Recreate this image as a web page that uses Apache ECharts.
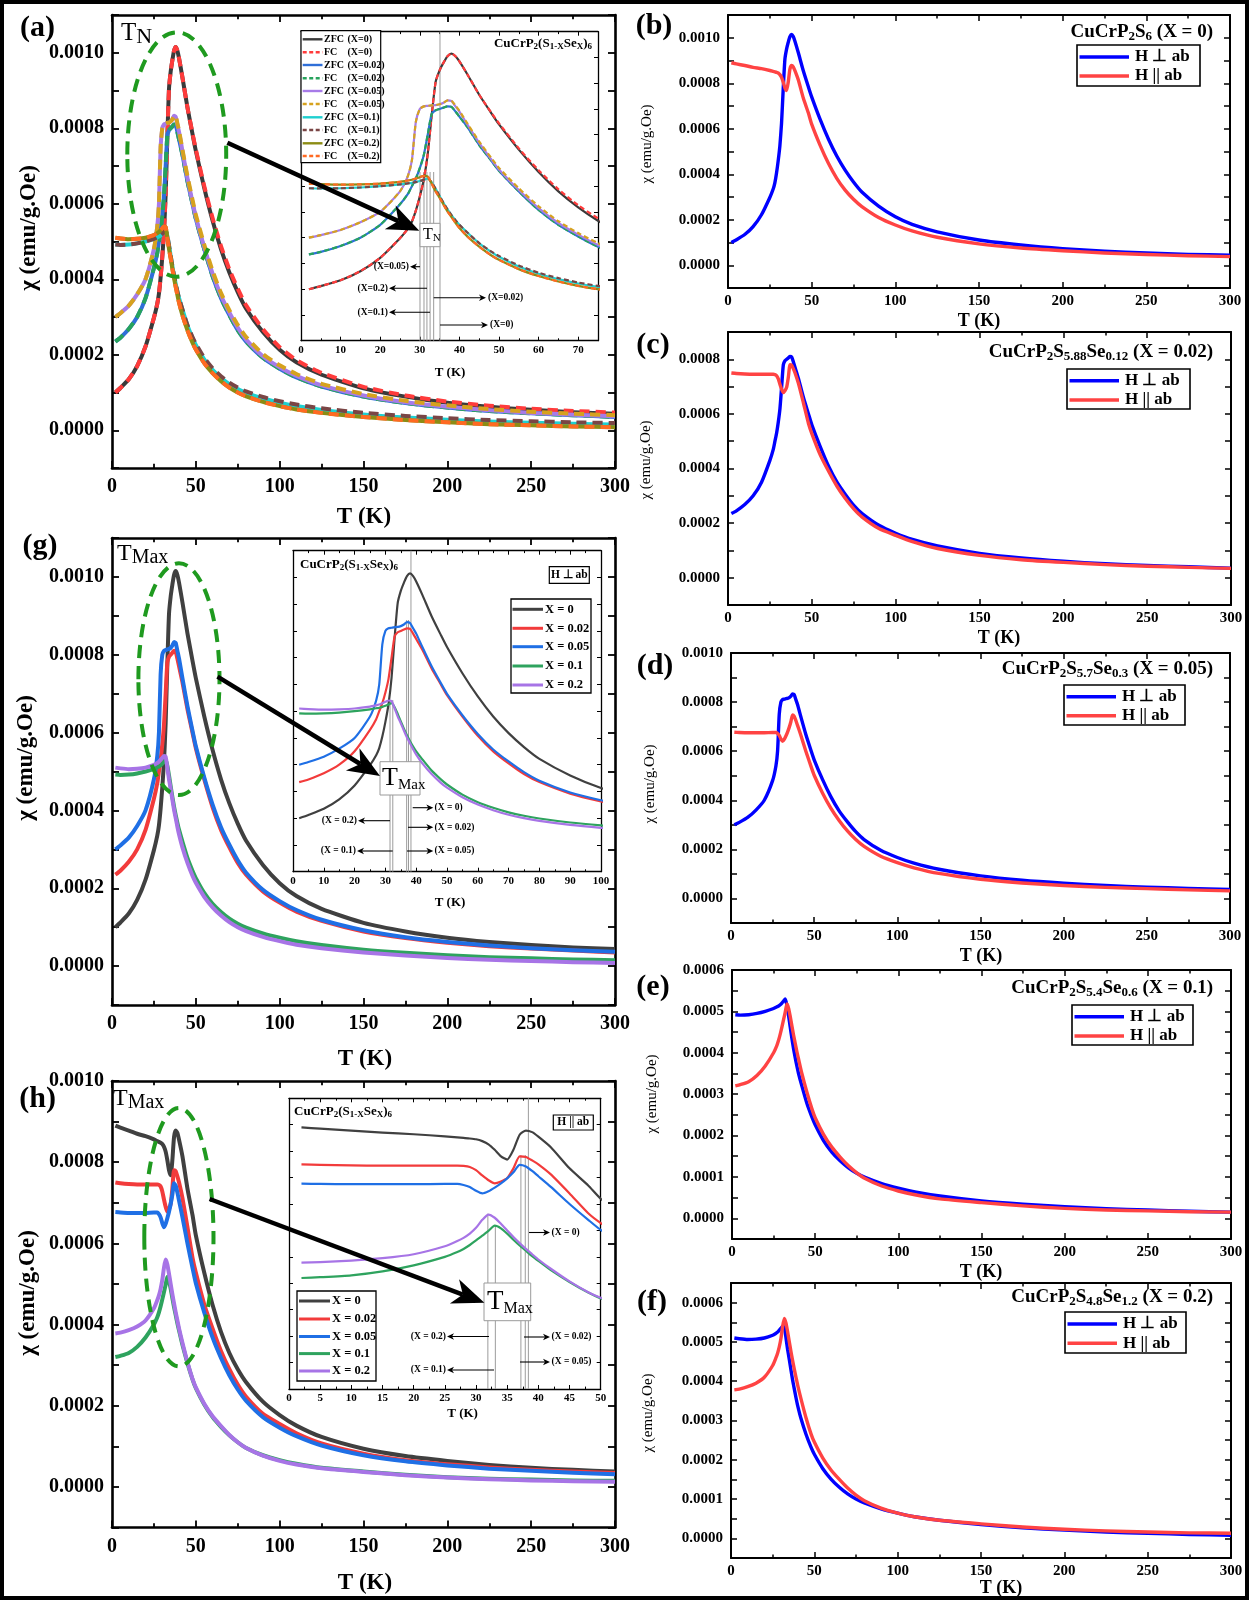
<!DOCTYPE html>
<html>
<head>
<meta charset="utf-8">
<script src="https://cdn.jsdelivr.net/npm/echarts@6/dist/echarts.min.js"></script>
<style>
html, body { margin: 0; padding: 0; background: #fff; }
#chart { width: 1249px; height: 1600px; }
</style>
</head>
<body>
<div id="chart"></div>
<script>
// Temperature grid (K) shared by every susceptibility curve
const T = [2, 5, 10, 15, 20, 25, 27, 28, 29, 30, 31, 32, 33, 34, 35, 36, 37, 38, 39, 40,
           42, 45, 48, 50, 55, 60, 65, 70, 75, 80, 90, 100, 110, 125, 150, 175, 200, 225, 250, 275, 300];

// chi (emu/g.Oe), field perpendicular to ab (ZFC)
const perpX0 = [0.000100, 0.000112, 0.000135, 0.000170, 0.000222, 0.000298, 0.000335, 0.000362, 0.000405, 0.000460,
                0.000525, 0.000625, 0.000775, 0.000905, 0.000950, 0.000980, 0.001005, 0.001015, 0.001005, 0.000985,
                0.000935, 0.000855, 0.000785, 0.000740, 0.000642, 0.000555, 0.000480, 0.000418, 0.000366, 0.000322,
                0.000260, 0.000213, 0.000180, 0.000147, 0.000111, 0.000089, 0.000073, 0.000062, 0.000054, 0.000048, 0.000044];
const perpX002 = [0.000235, 0.000245, 0.000268, 0.000300, 0.000350, 0.000430, 0.000470, 0.000500, 0.000530, 0.000570,
                  0.000620, 0.000700, 0.000780, 0.000795, 0.000800, 0.000805, 0.000810, 0.000808, 0.000790, 0.000770,
                  0.000730, 0.000660, 0.000600, 0.000560, 0.000480, 0.000408, 0.000350, 0.000305, 0.000265, 0.000235,
                  0.000192, 0.000163, 0.000140, 0.000116, 0.000089, 0.000072, 0.000060, 0.000051, 0.000045, 0.000040, 0.000035];
const perpX005 = [0.000300, 0.000310, 0.000330, 0.000360, 0.000400, 0.000480, 0.000540, 0.000600, 0.000750, 0.000800,
                  0.000810, 0.000812, 0.000814, 0.000815, 0.000818, 0.000824, 0.000833, 0.000830, 0.000810, 0.000790,
                  0.000740, 0.000668, 0.000605, 0.000565, 0.000485, 0.000415, 0.000357, 0.000312, 0.000272, 0.000240,
                  0.000196, 0.000167, 0.000144, 0.000119, 0.000092, 0.000074, 0.000062, 0.000053, 0.000046, 0.000041, 0.000037];
const perpX01 = [0.000492, 0.000491, 0.000492, 0.000495, 0.000500, 0.000507, 0.000511, 0.000513, 0.000516, 0.000520,
                 0.000525, 0.000530, 0.000515, 0.000490, 0.000462, 0.000435, 0.000410, 0.000388, 0.000368, 0.000350,
                 0.000320, 0.000278, 0.000245, 0.000226, 0.000188, 0.000160, 0.000139, 0.000122, 0.000109, 0.000099,
                 0.000084, 0.000073, 0.000064, 0.000054, 0.000042, 0.000034, 0.000028, 0.000023, 0.000020, 0.000017, 0.000015];
const perpX02 = [0.000510, 0.000508, 0.000506, 0.000507, 0.000510, 0.000517, 0.000522, 0.000525, 0.000530, 0.000535,
                 0.000540, 0.000538, 0.000510, 0.000480, 0.000455, 0.000428, 0.000402, 0.000380, 0.000358, 0.000338,
                 0.000305, 0.000265, 0.000232, 0.000214, 0.000178, 0.000151, 0.000130, 0.000113, 0.000100, 0.000090,
                 0.000075, 0.000064, 0.000055, 0.000046, 0.000035, 0.000027, 0.000021, 0.000016, 0.000013, 0.000010, 0.000008];

// field-cooled runs, same orientation
const fcX0 = [0.000100, 0.000112, 0.000135, 0.000170, 0.000222, 0.000298, 0.000335, 0.000362, 0.000405, 0.000460,
              0.000525, 0.000625, 0.000775, 0.000905, 0.000950, 0.000980, 0.001005, 0.001015, 0.001005, 0.000985,
              0.000935, 0.000855, 0.000787, 0.000744, 0.000647, 0.000562, 0.000488, 0.000426, 0.000375, 0.000331,
              0.000268, 0.000220, 0.000186, 0.000152, 0.000115, 0.000092, 0.000076, 0.000065, 0.000057, 0.000051, 0.000047];
const fcX002 = [0.000235, 0.000245, 0.000268, 0.000300, 0.000350, 0.000430, 0.000470, 0.000500, 0.000530, 0.000570,
                0.000620, 0.000700, 0.000780, 0.000795, 0.000800, 0.000805, 0.000810, 0.000808, 0.000790, 0.000770,
                0.000730, 0.000660, 0.000600, 0.000560, 0.000480, 0.000408, 0.000350, 0.000305, 0.000265, 0.000235,
                0.000192, 0.000163, 0.000140, 0.000116, 0.000089, 0.000072, 0.000060, 0.000051, 0.000045, 0.000040, 0.000035];
const fcX005 = [0.000300, 0.000310, 0.000330, 0.000360, 0.000400, 0.000480, 0.000540, 0.000600, 0.000750, 0.000800,
                0.000810, 0.000812, 0.000814, 0.000815, 0.000818, 0.000824, 0.000833, 0.000832, 0.000813, 0.000793,
                0.000744, 0.000673, 0.000611, 0.000571, 0.000492, 0.000422, 0.000364, 0.000318, 0.000279, 0.000247,
                0.000202, 0.000172, 0.000149, 0.000123, 0.000096, 0.000078, 0.000066, 0.000056, 0.000049, 0.000044, 0.000040];
const fcX01 = [0.000492, 0.000491, 0.000492, 0.000495, 0.000500, 0.000507, 0.000511, 0.000513, 0.000516, 0.000520,
               0.000525, 0.000530, 0.000515, 0.000490, 0.000462, 0.000435, 0.000410, 0.000388, 0.000368, 0.000350,
               0.000320, 0.000279, 0.000247, 0.000229, 0.000192, 0.000164, 0.000143, 0.000126, 0.000113, 0.000103,
               0.000088, 0.000077, 0.000068, 0.000058, 0.000046, 0.000038, 0.000032, 0.000027, 0.000024, 0.000021, 0.000019];
const fcX02 = [0.000510, 0.000508, 0.000506, 0.000507, 0.000510, 0.000517, 0.000522, 0.000525, 0.000530, 0.000535,
               0.000540, 0.000538, 0.000510, 0.000480, 0.000455, 0.000428, 0.000402, 0.000380, 0.000358, 0.000338,
               0.000305, 0.000265, 0.000232, 0.000214, 0.000178, 0.000151, 0.000130, 0.000113, 0.000100, 0.000090,
               0.000075, 0.000064, 0.000055, 0.000046, 0.000035, 0.000027, 0.000021, 0.000016, 0.000013, 0.000010, 0.000008];

// chi (emu/g.Oe), field parallel to ab
const paraX0 = [0.000890, 0.000885, 0.000878, 0.000870, 0.000864, 0.000856, 0.000852, 0.000850, 0.000848, 0.000845,
                0.000838, 0.000826, 0.000805, 0.000780, 0.000768, 0.000805, 0.000862, 0.000878, 0.000872, 0.000855,
                0.000815, 0.000735, 0.000670, 0.000620, 0.000528, 0.000448, 0.000382, 0.000330, 0.000290, 0.000258,
                0.000210, 0.000177, 0.000151, 0.000123, 0.000094, 0.000076, 0.000064, 0.000054, 0.000047, 0.000042, 0.000038];
const paraX002 = [0.000750, 0.000748, 0.000746, 0.000745, 0.000745, 0.000745, 0.000745, 0.000744, 0.000740, 0.000728,
                  0.000708, 0.000690, 0.000678, 0.000685, 0.000698, 0.000735, 0.000780, 0.000778, 0.000765, 0.000750,
                  0.000712, 0.000640, 0.000565, 0.000528, 0.000450, 0.000390, 0.000335, 0.000290, 0.000252, 0.000222,
                  0.000180, 0.000155, 0.000132, 0.000107, 0.000082, 0.000066, 0.000056, 0.000048, 0.000042, 0.000038, 0.000034];
const paraX005 = [0.000677, 0.000676, 0.000675, 0.000675, 0.000675, 0.000676, 0.000676, 0.000672, 0.000664, 0.000650,
                  0.000640, 0.000648, 0.000662, 0.000678, 0.000697, 0.000720, 0.000748, 0.000742, 0.000725, 0.000705,
                  0.000665, 0.000600, 0.000540, 0.000502, 0.000430, 0.000368, 0.000318, 0.000275, 0.000240, 0.000212,
                  0.000172, 0.000146, 0.000125, 0.000102, 0.000078, 0.000063, 0.000053, 0.000045, 0.000040, 0.000035, 0.000031];
const paraX01 = [0.000320, 0.000323, 0.000330, 0.000345, 0.000368, 0.000400, 0.000418, 0.000430, 0.000445, 0.000462,
                 0.000480, 0.000498, 0.000518, 0.000508, 0.000488, 0.000465, 0.000443, 0.000423, 0.000403, 0.000385,
                 0.000350, 0.000305, 0.000265, 0.000243, 0.000203, 0.000172, 0.000148, 0.000127, 0.000110, 0.000096,
                 0.000078, 0.000066, 0.000057, 0.000047, 0.000038, 0.000030, 0.000024, 0.000020, 0.000018, 0.000016, 0.000015];
const paraX02 = [0.000378, 0.000380, 0.000386, 0.000395, 0.000410, 0.000440, 0.000460, 0.000472, 0.000488, 0.000510,
                 0.000540, 0.000560, 0.000548, 0.000525, 0.000500, 0.000475, 0.000452, 0.000430, 0.000410, 0.000390,
                 0.000355, 0.000307, 0.000266, 0.000245, 0.000205, 0.000174, 0.000150, 0.000128, 0.000110, 0.000096,
                 0.000077, 0.000064, 0.000055, 0.000046, 0.000037, 0.000029, 0.000023, 0.000019, 0.000016, 0.000014, 0.000013];

// legend / annotation texts
const zfcLabels = ['ZFC', 'FC', 'ZFC', 'FC', 'ZFC', 'FC', 'ZFC', 'FC', 'ZFC', 'FC'];
const zfcX = ['(X=0)', '(X=0)', '(X=0.02)', '(X=0.02)', '(X=0.05)', '(X=0.05)', '(X=0.1)', '(X=0.1)', '(X=0.2)', '(X=0.2)'];
const xLabels = ['X = 0', 'X = 0.02', 'X = 0.05', 'X = 0.1', 'X = 0.2'];
const fieldLabels = ['H \u22A5 ab', 'H || ab'];

const SERIF = '"Liberation Serif", "Times New Roman", Times, serif';
const BLUE = '#0000ff', RED = '#ff4343';
const XC = ['#404040', '#f23b3b', '#1f6fe5', '#2ea35e', '#a774e6'];

const aSet = [
  [perpX0, '#3a3a3a', false], [fcX0, '#ff3b3b', true],
  [perpX002, '#2f6fd8', false], [fcX002, '#27a35c', true],
  [perpX005, '#a77be8', false], [fcX005, '#d6a21e', true],
  [perpX01, '#1fd0d0', false], [fcX01, '#7a4545', true],
  [perpX02, '#8c8c14', false], [fcX02, '#ff6a22', true]
];
const perpSet = [[perpX0, XC[0]], [perpX002, XC[1]], [perpX005, XC[2]], [perpX01, XC[3]], [perpX02, XC[4]]];
const paraSet = [[paraX0, XC[0]], [paraX002, XC[1]], [paraX005, XC[2]], [paraX01, XC[3]], [paraX02, XC[4]]];

// key, left, top, right, bottom, xMax, xStep, yMin, yMax, yStep, labelStep, kind
const LAYOUT = [
  ['a',   112, 15,     615,   468,    300, 50, -0.0001,  0.0011,  0.0001,  0.0002, 'main'],
  ['aIn', 301, 31.7,   598,   340.7,  75,  10, -0.0001,  0.0011,  0.0001,  0,      'inset'],
  ['g',   112, 538,    615,   1005,   300, 50, -0.0001,  0.0011,  0.0001,  0.0002, 'main'],
  ['gIn', 293, 550.7,  601,   871.7,  100, 10, -0.0001,  0.0011,  0.0001,  0,      'inset'],
  ['h',   112, 1081,   615,   1527.5, 300, 50, -0.0001,  0.0010,  0.0001,  0.0002, 'main'],
  ['hIn', 289, 1098.3, 600.7, 1389,   50,  5,  -0.0001,  0.0010,  0.0001,  0,      'inset'],
  ['b',   728, 15,     1230,  288,    300, 50, -0.0001,  0.0011,  0.0001,  0.0002, 'side'],
  ['c',   728, 332,    1231,  605,    300, 50, -0.0001,  0.0009,  0.0001,  0.0002, 'side'],
  ['d',   731, 653,    1230,  923,    300, 50, -0.0001,  0.0010,  0.0001,  0.0002, 'side'],
  ['e',   732, 970,    1231,  1239,   300, 50, -0.00005, 0.0006,  0.00005, 0.0001, 'side'],
  ['f',   731, 1283,   1231,  1558,   300, 50, -0.00005, 0.00065, 0.00005, 0.0001, 'side']
];
const SETS = {
  a: aSet, aIn: aSet, g: perpSet, gIn: perpSet, h: paraSet, hIn: paraSet,
  b: [[perpX0, BLUE], [paraX0, RED]], c: [[perpX002, BLUE], [paraX002, RED]],
  d: [[perpX005, BLUE], [paraX005, RED]], e: [[perpX01, BLUE], [paraX01, RED]],
  f: [[perpX02, BLUE], [paraX02, RED]]
};
const KIND = {
  main:  { lw: 2.6, tick: 7, tickW: 1.8, font: 20, xm: 9, ym: 8, curve: 4, dash: [10, 6] },
  inset: { lw: 1.3, tick: 4, tickW: 1,   font: 11, xm: 4, ym: 0, curve: 2.2, dash: [5, 3] },
  side:  { lw: 2,   tick: 6, tickW: 1.5, font: 15, xm: 6, ym: 8, curve: 3.4, dash: [8, 5] }
};

const yFmt = step => v => {
  if (!step) return '';
  const k = Math.round(v / step);
  return (Math.abs(v - k * step) < step * 1e-6 && v > -step * 1e-6) ? Math.abs(v).toFixed(4) : '';
};

const grids = [], xAxes = [], yAxes = [], series = [];
LAYOUT.forEach((g, gi) => {
  const [key, l, t, r, b, xMax, xStep, yMin, yMax, yStep, lStep, kind] = g;
  const k = KIND[kind];
  grids.push({ left: l, top: t, width: r - l, height: b - t, containLabel: false, outerBoundsMode: 'none',
               show: kind === 'inset', backgroundColor: '#fff', borderWidth: 0 });
  const axLine = { show: true, onZero: false, lineStyle: { color: '#000', width: k.lw } };
  const axTick = { show: true, inside: true, length: k.tick, lineStyle: { color: '#000', width: k.tickW } };
  const xMinor = { show: true, splitNumber: 2, length: k.tick * 0.6, lineStyle: { color: '#000', width: k.tickW } };
  const common = { gridIndex: gi, type: 'value', splitLine: { show: false }, minorSplitLine: { show: false }, silent: true };
  const xLab = { show: true, margin: k.xm, fontFamily: SERIF, fontWeight: 'bold', fontSize: k.font, color: '#000',
                 showMaxLabel: xMax % xStep === 0, showMinLabel: true, hideOverlap: false };
  xAxes.push(Object.assign({}, common, { position: 'bottom', min: 0, max: xMax, interval: xStep,
    axisLine: axLine, axisTick: axTick, minorTick: xMinor, axisLabel: xLab }));
  xAxes.push(Object.assign({}, common, { position: 'top', min: 0, max: xMax, interval: xStep,
    axisLine: axLine, axisTick: axTick, minorTick: xMinor, axisLabel: { show: false } }));
  yAxes.push(Object.assign({}, common, { position: 'left', min: yMin, max: yMax, interval: yStep,
    axisLine: axLine, axisTick: axTick,
    axisLabel: { show: kind !== 'inset', margin: k.ym, fontFamily: SERIF, fontWeight: 'bold', fontSize: k.font,
                 color: '#000', formatter: yFmt(lStep), hideOverlap: false } }));
  yAxes.push(Object.assign({}, common, { position: 'right', min: yMin, max: yMax, interval: yStep,
    axisLine: axLine, axisTick: axTick, axisLabel: { show: false } }));
  SETS[key].forEach(([vals, color, dashed]) => {
    series.push({
      type: 'line', xAxisIndex: 2 * gi, yAxisIndex: 2 * gi, silent: true, animation: false,
      symbol: 'none', showSymbol: false, smooth: 0.2, clip: true, z: 3,
      data: T.map((tt, i) => [tt, vals[i]]),
      lineStyle: { color, width: k.curve, type: dashed ? k.dash : 'solid', join: 'round' }
    });
  });
});

const chart = echarts.init(document.getElementById('chart'), null, { renderer: 'canvas' });
chart.setOption({ animation: false, grid: grids, xAxis: xAxes, yAxis: yAxes, series });

// ---------- annotation layer ----------
const KEYS = LAYOUT.map(g => g[0]);
const P = (key, x, y) => {
  const gi = KEYS.indexOf(key);
  return chart.convertToPixel({ xAxisIndex: 2 * gi, yAxisIndex: 2 * gi }, [x, y]);
};
const G = [];
function txt(x, y, text, o) {
  o = o || {};
  G.push({ type: 'text', x, y, rotation: o.rot || 0, z: o.z || 60, silent: true,
    style: { text, fill: o.color || '#000', fontFamily: SERIF, fontSize: o.fs || 14,
             fontWeight: o.fw || 'bold', align: o.align || 'center', verticalAlign: o.va || 'middle',
             rich: o.rich } });
}
function subText(x, y, parts, big, small, shift, o) {
  o = o || {};
  const Ln = Math.round(big * 1.15);
  const Ls = Ln - 2 * shift;
  const text = parts.map(([s, sub]) => (sub ? '{s|' : '{n|') + s + '}').join('');
  const fw = o.fw || 'bold';
  txt(x, y, text, Object.assign({}, o, { rich: {
    n: { fontSize: big, fontFamily: SERIF, fontWeight: fw, lineHeight: Ln, fill: '#000' },
    s: { fontSize: small, fontFamily: SERIF, fontWeight: fw, lineHeight: Ls, verticalAlign: 'bottom', fill: '#000' }
  } }));
}
function rect(x, y, w, h, o) {
  o = o || {};
  G.push({ type: 'rect', z: o.z || 55, silent: true, shape: { x, y, width: w, height: h },
    style: { fill: o.fill || '#fff', stroke: o.stroke || '#000', lineWidth: o.lw || 1 } });
}
function seg(x1, y1, x2, y2, o) {
  o = o || {};
  G.push({ type: 'line', z: o.z || 56, silent: true, shape: { x1, y1, x2, y2 },
    style: { stroke: o.stroke || '#000', lineWidth: o.lw || 1, lineDash: o.dash || null } });
}
function smallArrow(x1, y, x2) {
  const d = x2 > x1 ? 1 : -1;
  seg(x1, y, x2 - d * 4, y, { lw: 1.1, z: 58 });
  G.push({ type: 'polygon', z: 58, silent: true,
    shape: { points: [[x2, y], [x2 - d * 7, y - 3.2], [x2 - d * 5, y], [x2 - d * 7, y + 3.2]] }, style: { fill: '#000' } });
}
function bigArrow(x1, y1, x2, y2) {
  const L = Math.hypot(x2 - x1, y2 - y1), ux = (x2 - x1) / L, uy = (y2 - y1) / L, nx = -uy, ny = ux;
  const hl = 32, hw = 13;
  const bx = x2 - ux * hl, by = y2 - uy * hl;
  const mx = x2 - ux * hl * 0.72, my = y2 - uy * hl * 0.72;
  seg(x1, y1, mx, my, { lw: 4.5, z: 90 });
  G.push({ type: 'polygon', z: 90, silent: true,
    shape: { points: [[x2, y2], [bx + nx * hw, by + ny * hw], [mx, my], [bx - nx * hw, by - ny * hw]] },
    style: { fill: '#000' } });
}
function ellipse(x0, y0, x1, y1) {
  G.push({ type: 'ellipse', z: 80, silent: true,
    shape: { cx: (x0 + x1) / 2, cy: (y0 + y1) / 2, rx: (x1 - x0) / 2, ry: (y1 - y0) / 2 },
    style: { fill: 'transparent', stroke: '#1f9a1f', lineWidth: 4, lineDash: [13, 8] } });
}
function vline(key, t, yTop, yBot) {
  const x = P(key, t, 0)[0];
  seg(x, yTop, x, yBot, { stroke: '#9c9c9c', lw: 1, z: 2 });
}

// outer frame
G.push({ type: 'rect', z: 100, silent: true, shape: { x: 2, y: 2, width: 1245, height: 1596 },
  style: { fill: 'transparent', stroke: '#000', lineWidth: 4 } });

// panel letters
[['(a)', 37.5, 28.5], ['(g)', 40, 546], ['(h)', 37.6, 1099], ['(b)', 654, 26.5], ['(c)', 653, 345],
 ['(d)', 655, 666], ['(e)', 653, 987.5], ['(f)', 652, 1302]].forEach(([s, x, y]) => txt(x, y, s, { fs: 30 }));

// axis titles, left column
[[29, 228], [26, 758], [28, 1293]].forEach(([x, y]) => txt(x, y, '\u03C7 (emu/g.Oe)', { fs: 23, rot: Math.PI / 2 }));
[[364, 517], [365, 1059], [365, 1583]].forEach(([x, y]) => txt(x, y, 'T (K)', { fs: 23 }));
// axis titles, right column
[[647, 144], [646, 460], [650, 784], [652, 1094], [648, 1413]].forEach(([x, y]) =>
  txt(x, y, '\u03C7 (emu/g.Oe)', { fs: 15, fw: 'normal', rot: Math.PI / 2 }));
[[979, 321.7], [999, 638], [981, 956], [981, 1272.7], [1001, 1588]].forEach(([x, y]) => txt(x, y, 'T (K)', { fs: 18 }));
// inset axis titles
[[450, 373], [450, 903], [462.6, 1414]].forEach(([x, y]) => txt(x, y, 'T (K)', { fs: 13 }));

// compound names of the single-crystal panels
const titles = [
  [32,     [['CuCrP', 0], ['2', 1], ['S', 0], ['6', 1], [' (X = 0)', 0]]],
  [352.3,  [['CuCrP', 0], ['2', 1], ['S', 0], ['5.88', 1], ['Se', 0], ['0.12', 1], [' (X = 0.02)', 0]]],
  [669.3,  [['CuCrP', 0], ['2', 1], ['S', 0], ['5.7', 1], ['Se', 0], ['0.3', 1], [' (X = 0.05)', 0]]],
  [988,    [['CuCrP', 0], ['2', 1], ['S', 0], ['5.4', 1], ['Se', 0], ['0.6', 1], [' (X = 0.1)', 0]]],
  [1297,   [['CuCrP', 0], ['2', 1], ['S', 0], ['4.8', 1], ['Se', 0], ['1.2', 1], [' (X = 0.2)', 0]]]
];
titles.forEach(([y, parts]) => subText(1213, y, parts, 19, 13, 4, { align: 'right' }));

// orientation legends of the single-crystal panels
[[1077, 45, 123, 41, 57, 76], [1067, 369, 123, 40, 380.7, 400], [1064, 685, 121, 40, 696.7, 715.7],
 [1072, 1005, 121, 40, 1016.7, 1036], [1065, 1312, 121, 41, 1324, 1343.3]].forEach(([x, y, w, h, r1, r2]) => {
  rect(x, y, w, h, { lw: 1.6 });
  seg(x + 2.5, r1, x + 52, r1, { stroke: BLUE, lw: 3.5, z: 57 });
  seg(x + 2.5, r2, x + 52, r2, { stroke: RED, lw: 3.5, z: 57 });
  txt(x + 58, r1, fieldLabels[0], { fs: 17, align: 'left' });
  txt(x + 58, r2, fieldLabels[1], { fs: 17, align: 'left' });
});

// ---- panel (a) ----
subText(121, 33.4, [['T', 0], ['N', 1]], 25, 22, 5, { align: 'left', fw: 'normal' });
ellipse(127.3, 32.3, 226.2, 276.7);
rect(301, 30.7, 79.7, 132, { lw: 1.2 });
[39.3, 52.3, 65, 78.3, 91, 104, 117.3, 130, 143.3, 156].forEach((y, i) => {
  seg(302.7, y, 322.5, y, { stroke: aSet[i][1], lw: 2.4, dash: aSet[i][2] ? [4, 2.5] : null, z: 57 });
  txt(324, y, zfcLabels[i], { fs: 10, align: 'left' });
  txt(347.5, y, zfcX[i], { fs: 10, align: 'left' });
});
subText(592, 43.3, [['CuCrP', 0], ['2', 1], ['(S', 0], ['1-X', 1], ['Se', 0], ['X', 1], [')', 0], ['6', 1]], 13, 9, 3, { align: 'right' });
[30.05, 31.06, 31.8, 32.6, 33.5].forEach(t => vline('aIn', t, 172, 340.7));
vline('aIn', 35.1, 31.7, 340.7);
rect(420, 223.3, 20, 23.4, { stroke: '#9a9a9a', lw: 1, z: 70 });
subText(423, 234.5, [['T', 0], ['N', 1]], 16, 11, 3, { align: 'left', fw: 'normal', z: 71 });
txt(409, 266.7, '(X=0.05)', { fs: 9.5, align: 'right' }); smallArrow(420, 266.7, 410);
txt(388, 288.3, '(X=0.2)', { fs: 9.5, align: 'right' }); smallArrow(427, 288.3, 389);
txt(388, 312.3, '(X=0.1)', { fs: 9.5, align: 'right' }); smallArrow(430, 312.3, 389);
smallArrow(433.7, 297.7, 486); txt(488, 297.7, '(X=0.02)', { fs: 9.5, align: 'left' });
smallArrow(440, 325, 488); txt(490, 325, '(X=0)', { fs: 9.5, align: 'left' });
bigArrow(227.4, 142.7, 419.3, 230.7);

// ---- panel (g) ----
subText(117, 553.9, [['T', 0], ['Max', 1]], 24, 20, 5, { align: 'left', fw: 'normal' });
ellipse(138.4, 563.3, 219.5, 795);
subText(300, 565, [['CuCrP', 0], ['2', 1], ['(S', 0], ['1-X', 1], ['Se', 0], ['X', 1], [')', 0], ['6', 1]], 13, 9, 3, { align: 'left' });
rect(549.3, 566.7, 40, 16.6, { lw: 1.2 });
txt(569.3, 575, fieldLabels[0], { fs: 11.5 });
rect(511, 599, 80, 94, { lw: 1.3 });
[609.3, 628.3, 646.7, 666, 685].forEach((y, i) => {
  seg(512.5, y, 543, y, { stroke: XC[i], lw: 3, z: 57 });
  txt(545, y, xLabels[i], { fs: 12.5, align: 'left' });
});
[31.5, 32.4].forEach(t => vline('gIn', t, 700, 871.7));
[36.9, 37.5].forEach(t => vline('gIn', t, 620, 871.7));
vline('gIn', 38.3, 550.7, 871.7);
rect(380, 761.7, 40, 33.3, { stroke: '#9a9a9a', lw: 1, z: 70 });
subText(382, 778, [['T', 0], ['Max', 1]], 26, 15, 5, { align: 'left', fw: 'normal', z: 71 });
smallArrow(412.7, 807.7, 433.3); txt(434.5, 807.7, '(X = 0)', { fs: 9.5, align: 'left' });
txt(357, 820.7, '(X = 0.2)', { fs: 9.5, align: 'right' }); smallArrow(390, 820.7, 358);
smallArrow(408, 827.3, 433.3); txt(434.5, 827.3, '(X = 0.02)', { fs: 9.5, align: 'left' });
txt(356, 851, '(X = 0.1)', { fs: 9.5, align: 'right' }); smallArrow(392.7, 851, 357);
smallArrow(407, 851, 433.3); txt(434.5, 851, '(X = 0.05)', { fs: 9.5, align: 'left' });
bigArrow(217.5, 676.7, 380, 776);

// ---- panel (h) ----
subText(113, 1099, [['T', 0], ['Max', 1]], 24, 20, 5, { align: 'left', fw: 'normal' });
ellipse(144.3, 1108, 213.5, 1366.4);
subText(294, 1111.7, [['CuCrP', 0], ['2', 1], ['(S', 0], ['1-X', 1], ['Se', 0], ['X', 1], [')', 0], ['6', 1]], 13, 9, 3, { align: 'left' });
rect(553.3, 1115, 40, 15, { lw: 1.2 });
txt(573.3, 1122.5, fieldLabels[1], { fs: 11.5 });
rect(297, 1291, 79, 90, { lw: 1.3 });
[1301, 1319, 1336.5, 1353.6, 1371].forEach((y, i) => {
  seg(299, y, 330, y, { stroke: XC[i], lw: 3, z: 57 });
  txt(332, y, xLabels[i], { fs: 12.5, align: 'left' });
});
vline('hIn', 31.9, 1213.6, 1389);
vline('hIn', 33.1, 1226, 1389);
[37.2, 37.9].forEach(t => vline('hIn', t, 1155, 1389));
vline('hIn', 38.4, 1098.3, 1389);
rect(484, 1283, 46.7, 37.7, { stroke: '#9a9a9a', lw: 1, z: 70 });
subText(487, 1301.5, [['T', 0], ['Max', 1]], 27, 16, 5, { align: 'left', fw: 'normal', z: 71 });
smallArrow(529, 1232.5, 550); txt(551.5, 1232.5, '(X = 0)', { fs: 9.5, align: 'left' });
txt(446, 1336.5, '(X = 0.2)', { fs: 9.5, align: 'right' }); smallArrow(489, 1336.5, 447);
smallArrow(524, 1337, 550); txt(551.5, 1337, '(X = 0.02)', { fs: 9.5, align: 'left' });
txt(446, 1370, '(X = 0.1)', { fs: 9.5, align: 'right' }); smallArrow(494, 1370, 447);
smallArrow(520, 1362, 550); txt(551.5, 1362, '(X = 0.05)', { fs: 9.5, align: 'left' });
bigArrow(209.6, 1199, 484.4, 1302.7);

chart.setOption({ graphic: { elements: G } });
</script>
</body>
</html>
